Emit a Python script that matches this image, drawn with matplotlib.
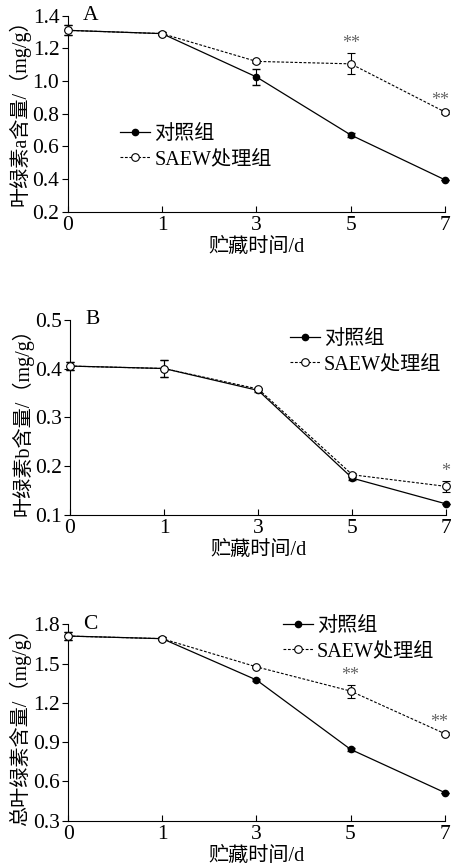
import matplotlib
matplotlib.use("Agg")
import matplotlib.pyplot as plt
from matplotlib.lines import Line2D

plt.rcParams['font.family'] = ['Liberation Serif', 'Noto Sans CJK SC']
plt.rcParams['font.size'] = 15.5
plt.rcParams['axes.unicode_minus'] = False

# --- Dados ---
days = ['0', '1', '3', '5', '7']
leg_ctrl = '对照组'
leg_saew = 'SAEW处理组'
xlabel = '贮藏时间/d'

chla_ctrl = [1.31, 1.29, 1.025, 0.67, 0.395]
chla_ctrl_err = [0.03, 0.01, 0.05, 0.01, 0.0]
chla_saew = [1.31, 1.29, 1.12, 1.105, 0.81]
chla_saew_err = [0.03, 0.01, 0.01, 0.065, 0.01]
chla_sig = ['', '', '', '**', '**']

chlb_ctrl = [0.405, 0.40, 0.355, 0.175, 0.122]
chlb_ctrl_err = [0.008, 0.017, 0.003, 0.004, 0.0]
chlb_saew = [0.405, 0.40, 0.358, 0.182, 0.158]
chlb_saew_err = [0.008, 0.017, 0.003, 0.004, 0.012]
chlb_sig = ['', '', '', '', '*']

tot_ctrl = [1.71, 1.69, 1.375, 0.845, 0.515]
tot_ctrl_err = [0.03, 0.01, 0.01, 0.01, 0.0]
tot_saew = [1.71, 1.69, 1.475, 1.29, 0.965]
tot_saew_err = [0.03, 0.01, 0.01, 0.05, 0.01]
tot_sig = ['', '', '', '**', '**']

panels = [
    dict(tag='A', ylabel='叶绿素a含量/（mg/g）', ctrl=chla_ctrl, ctrl_err=chla_ctrl_err,
         saew=chla_saew, saew_err=chla_saew_err, sig=chla_sig,
         ylim=(0.2, 1.4), yticks=[0.2, 0.4, 0.6, 0.8, 1.0, 1.2, 1.4],
         rect=[0.150, 0.756, 0.837, 0.226], leg=(0.139, 0.33), ly=0.53),
    dict(tag='B', ylabel='叶绿素b含量/（mg/g）', ctrl=chlb_ctrl, ctrl_err=chlb_ctrl_err,
         saew=chlb_saew, saew_err=chlb_saew_err, sig=chlb_sig,
         ylim=(0.1, 0.5), yticks=[0.1, 0.2, 0.3, 0.4, 0.5],
         rect=[0.155, 0.407, 0.835, 0.2246], leg=(0.584, 0.835), ly=0.5),
    dict(tag='C', ylabel='总叶绿素含量/（mg/g）', ctrl=tot_ctrl, ctrl_err=tot_ctrl_err,
         saew=tot_saew, saew_err=tot_saew_err, sig=tot_sig,
         ylim=(0.3, 1.8), yticks=[0.3, 0.6, 0.9, 1.2, 1.5, 1.8],
         rect=[0.151, 0.0545, 0.835, 0.2263], leg=(0.57, 0.925), ly=0.5),
]

fig = plt.figure(figsize=(4.51, 8.68), dpi=100)
xpos = list(range(len(days)))

for p in panels:
    ax = fig.add_axes(p['rect'])
    ax.errorbar(xpos, p['ctrl'], yerr=p['ctrl_err'], fmt='-o', color='black', lw=0.9,
                markersize=4.5, mfc='black', mec='black', capsize=3, elinewidth=0.8,
                clip_on=False, zorder=3)
    ax.errorbar(xpos, p['saew'], yerr=p['saew_err'], fmt='--o', color='black', lw=0.8,
                dashes=(2.5, 1.5), markersize=5.5, mfc='white', mec='black', mew=0.8,
                capsize=3, elinewidth=0.8, clip_on=False, zorder=4)
    span = p['ylim'][1] - p['ylim'][0]
    for x, y, e, s in zip(xpos, p['saew'], p['saew_err'], p['sig']):
        if s:
            # a ultima estrela fica encostada na borda direita
            ha = 'right' if x == xpos[-1] else 'center'
            dx = 0.04 if x == xpos[-1] else 0
            ax.text(x + dx, y + e + span * 0.005, s, ha=ha, va='bottom', fontsize=13,
                    color='#666666')
    ax.set_xlim(0, len(days) - 1)
    ax.set_ylim(*p['ylim'])
    ax.set_xticks(xpos)
    ax.set_xticklabels(days)
    ax.set_yticks(p['yticks'])
    ax.set_yticklabels([f'{v:.1f}' for v in p['yticks']])
    ax.tick_params(axis='x', direction='in', length=4, pad=3)
    ax.tick_params(axis='y', direction='out', length=4, pad=2)
    ax.spines['top'].set_visible(False)
    ax.spines['right'].set_visible(False)
    ax.set_xlabel(xlabel, labelpad=2, fontsize=14.5)
    ax.set_ylabel(p['ylabel'], labelpad=1, fontsize=14.5, y=p['ly'])
    ax.text(0.04, 1.0, p['tag'], transform=ax.transAxes, ha='left', va='center', fontsize=15.5)
    handles = [
        Line2D([], [], ls='-', lw=0.9, color='black', marker='o', markersize=4.5,
               mfc='black', mec='black'),
        Line2D([], [], ls='--', dashes=(2.5, 1.5), lw=0.8, color='black', marker='o',
               markersize=5.5, mfc='white', mec='black', mew=0.8),
    ]
    ax.legend(handles, [leg_ctrl, leg_saew], loc='center left', bbox_to_anchor=p['leg'],
              frameon=False, handlelength=1.5, handletextpad=0.2, labelspacing=0.3,
              borderpad=0, borderaxespad=0, fontsize=14.5)

fig.savefig('out.png', dpi=100)
